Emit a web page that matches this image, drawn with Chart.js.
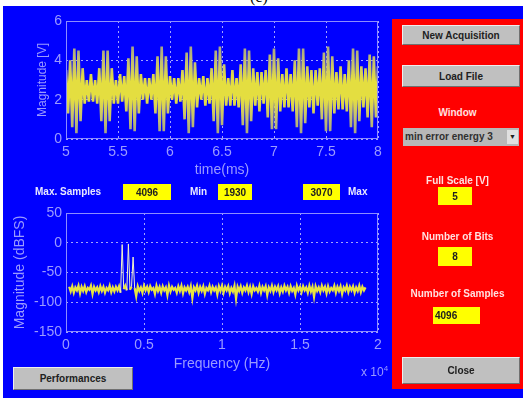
<!DOCTYPE html>
<html>
<head>
<meta charset="utf-8">
<script src="https://cdn.jsdelivr.net/npm/chart.js@4.4.0/dist/chart.umd.min.js"></script>
<style>
  body { margin: 0; width: 523px; height: 398px; background: #ffffff; position: relative; overflow: hidden; font-family: "Liberation Sans", Arial, sans-serif; }
  .abs { position: absolute; }
  #fondo { left: 3px; top: 6px; width: 520px; height: 392px; background: #0000ff; }
  #painel { left: 392px; top: 19px; width: 131px; height: 370px; background: #ff0000; }
  .btn { position: absolute; background: #c0c0c0; box-sizing: border-box; border-top: 1px solid #eeeeee; border-left: 1px solid #eeeeee;
         border-right: 1px solid #707070; border-bottom: 1px solid #707070; font-weight: bold; font-size: 10px; color: #202020;
         display: flex; align-items: center; justify-content: center; }
  .rotulo { position: absolute; font-weight: bold; font-size: 10px; color: #ffe0e0; text-align: center; white-space: nowrap; }
  .info { position: absolute; font-weight: bold; font-size: 10px; color: #e8e8ff; white-space: nowrap; }
  .caixa { position: absolute; background: #ffff00; box-sizing: border-box; font-weight: bold; font-size: 10px; color: #202020;
           display: flex; align-items: center; justify-content: center; }
  canvas { position: absolute; }
</style>
</head>
<body>
<div class="abs" style="left:250px; top:-12px; font: 16px 'Liberation Serif', serif; color:#000;">(c)</div>
<div id="fondo" class="abs"></div>

<canvas id="sinal-chart" width="392" height="190" style="left:0; top:0;"></canvas>
<canvas id="espectro-chart" width="392" height="200" style="left:0; top:195px;"></canvas>

<div class="info" style="left:35px; top:186px;">Max. Samples</div>
<div class="caixa" style="left:123px; top:184px; width:48px; height:16px;">4096</div>
<div class="info" style="left:190px; top:186px;">Min</div>
<div class="caixa" style="left:218px; top:184px; width:34px; height:16px;">1930</div>
<div class="caixa" style="left:303px; top:184px; width:37px; height:16px;">3070</div>
<div class="info" style="left:348px; top:186px;">Max</div>
<div class="info" style="left:361px; top:364px; font-weight:normal; font-size:12px; color:#9999ff;">x 10<sup style="font-size:8px;">4</sup></div>

<div class="btn" style="left:13px; top:367px; width:120px; height:23px;">Performances</div>

<div id="painel" class="abs"></div>
<div class="btn" style="left:402px; top:25px; width:118px; height:20px;">New Acquisition</div>
<div class="btn" style="left:402px; top:65px; width:118px; height:22px;">Load File</div>
<div class="rotulo" style="left:392px; width:131px; top:107px;">Window</div>
<div class="abs" style="left:403px; top:128px; width:116px; height:18px; background:#b8b8b8; font-weight:bold; font-size:10px; color:#303030; line-height:18px; padding-left:2px; box-sizing:border-box; white-space:nowrap; overflow:hidden;">min error energy 3</div>
<div class="abs" style="left:507px; top:130px; width:11px; height:14px; background:#e0e0e0; font-size:7px; line-height:14px; text-align:center; color:#202020;">&#9660;</div>
<div class="rotulo" style="left:392px; width:131px; top:175px;">Full Scale [V]</div>
<div class="caixa" style="left:438px; top:187px; width:34px; height:18px;">5</div>
<div class="rotulo" style="left:392px; width:131px; top:231px;">Number of Bits</div>
<div class="caixa" style="left:438px; top:247px; width:34px; height:19px;">8</div>
<div class="rotulo" style="left:392px; width:131px; top:288px;">Number of Samples</div>
<div class="caixa" style="left:433px; top:307px; width:47px; height:17px; justify-content:flex-start; padding-left:2px;">4096</div>
<div class="btn" style="left:402px; top:357px; width:118px; height:27px;">Close</div>

<script>
// sinal no tempo (ms) - amostras
const tempoInicio = 5;
const tempoPasso = 0.02;
const tensaoV = [
  3.5, 1.3, 4.0, 0.6, 4.6, 0.3, 4.5, 0.9, 3.6, 1.8,
  3.0, 1.9, 3.3, 1.9, 3.0, 1.8, 3.6, 0.9, 4.5, 0.3,
  4.5, 0.9, 3.6, 1.8, 3.0, 1.8, 3.3, 1.9, 3.2, 1.4,
  4.1, 0.5, 4.7, 0.4, 4.2, 1.3, 3.3, 2.0, 3.1, 1.8,
  3.1, 2.0, 3.3, 1.3, 4.2, 0.4, 4.7, 0.4, 4.2, 1.3,
  3.2, 2.0, 3.1, 1.8, 3.1, 1.9, 3.5, 1.0, 4.4, 0.3,
  4.7, 0.6, 3.9, 1.6, 3.1, 2.0, 3.2, 1.7, 3.1, 1.8,
  3.6, 0.9, 4.5, 0.3, 4.7, 0.7, 3.8, 1.7, 3.1, 1.7,
  3.5, 1.7, 3.1, 1.6, 3.8, 0.7, 4.6, 0.3, 4.5, 0.9,
  3.6, 1.7, 3.4, 1.4, 3.4, 1.8, 3.5, 1.1, 4.3, 0.5,
  4.6, 0.5, 4.1, 1.4, 3.3, 1.6, 3.6, 1.6, 3.3, 1.4,
  4.0, 0.6, 4.6, 0.3, 4.6, 0.8, 3.7, 1.6, 3.5, 1.3,
  3.5, 1.7, 3.6, 1.0, 4.4, 0.4, 4.7, 0.4, 4.2, 1.3,
  3.4, 1.5, 3.7, 1.5, 3.3, 1.4, 4.0, 0.6, 4.6, 0.3,
  4.5, 0.9, 3.7, 1.6, 3.6, 1.1, 4.3, 0.6, 4.2, 1.1,
  3.7
];

// espectro (frequencia em x10^4 Hz)
const freqInicio = 0.02;
const freqPasso = 0.01;
const magnitudeDb = [
  -74, -82, -73, -84, -75, -80, -72, -85, -74, -81,
  -73, -83, -76, -79, -72, -86, -74, -80, -75, -83,
  -73, -81, -74, -84, -76, -80, -72, -83, -75, -82,
  -74, -80, -73, -84, -3, -78, -72, -80, -2, -79,
  -74, -24, -76, -90, -73, -81, -75, -84, -72, -80,
  -74, -83, -73, -79, -76, -86, -72, -81, -74, -84,
  -73, -80, -75, -88, -72, -82, -74, -79, -76, -84,
  -73, -81, -72, -85, -75, -80, -74, -83, -73, -93,
  -75, -80, -72, -84, -74, -81, -73, -86, -76, -80,
  -72, -83, -74, -80, -75, -87, -73, -81, -72, -84,
  -74, -80, -73, -85, -76, -82, -72, -94, -74, -81,
  -73, -84, -75, -80, -72, -83, -74, -86, -73, -80,
  -76, -82, -72, -84, -74, -80, -73, -88, -75, -81,
  -72, -83, -74, -80, -73, -85, -75, -82, -72, -80,
  -74, -84, -73, -81, -76, -87, -72, -80, -74, -83,
  -73, -80, -75, -84, -72, -82, -74, -91, -73, -81,
  -75, -83, -72, -80, -74, -85, -73, -82, -76, -80,
  -72, -84, -74, -81, -73, -86, -75, -80, -72, -83,
  -74, -80, -73, -84, -75, -81, -72, -83, -74, -80,
  -75
];

const tempoMs = tensaoV.map((v, i) => +(tempoInicio + i * tempoPasso).toFixed(3));
const frequencia = magnitudeDb.map((v, i) => +(freqInicio + i * freqPasso).toFixed(3));

const corTexto = '#9a9aff';
const corGrade = '#a4a4ff';
const fonteEixo = { family: '"Liberation Sans", Arial, sans-serif', size: 14 };

// caixa fechada em volta da area do grafico (estilo matlab)
const caixaPlugin = {
  id: 'caixa',
  afterDraw(chart) {
    const a = chart.chartArea;
    const c = chart.ctx;
    c.save();
    c.strokeStyle = '#8c8cff';
    c.lineWidth = 1;
    c.strokeRect(a.left + 0.5, a.top + 0.5, a.right - a.left - 1, a.bottom - a.top - 1);
    c.restore();
  }
};

// amarelo forte no centro, acinzentado nas pontas
function corSinal(context) {
  const chart = context.chart;
  const area = chart.chartArea;
  if (!area) return '#cdc862';
  const y = chart.scales.y;
  const g = chart.ctx.createLinearGradient(0, y.getPixelForValue(5), 0, y.getPixelForValue(0));
  g.addColorStop(0, '#9c9c8c');
  g.addColorStop(0.22, '#c4c070');
  g.addColorStop(0.4, '#e4de40');
  g.addColorStop(0.6, '#e4de40');
  g.addColorStop(0.78, '#c4c070');
  g.addColorStop(1, '#9c9c8c');
  return g;
}

function eixoX(min, max, passo, altura, tituloTexto, tituloPad) {
  return {
    type: 'linear', min: min, max: max,
    afterFit: (s) => { s.height = altura; },
    ticks: { stepSize: passo, color: corTexto, font: fonteEixo, padding: 5, maxRotation: 0,
             callback: (v) => String(+v.toFixed(2)) },
    grid: { color: corGrade, drawTicks: false, lineWidth: 1 },
    border: { display: false, dash: [2, 3] },
    title: { display: true, text: tituloTexto, color: corTexto, font: fonteEixo, padding: { top: 0, bottom: tituloPad } }
  };
}

function eixoY(min, max, passo, tituloTexto, tituloPad, tituloTam) {
  return {
    min: min, max: max,
    afterFit: (s) => { s.width = 66; },
    ticks: { stepSize: passo, color: corTexto, font: fonteEixo, padding: 4 },
    grid: { color: corGrade, drawTicks: false, lineWidth: 1 },
    border: { display: false, dash: [2, 3] },
    title: { display: true, text: tituloTexto, color: corTexto,
             font: { family: fonteEixo.family, size: tituloTam }, padding: { top: tituloPad, bottom: 0 } }
  };
}

new Chart(document.getElementById('sinal-chart').getContext('2d'), {
  type: 'line',
  data: {
    labels: tempoMs,
    datasets: [{
      data: tensaoV,
      borderColor: corSinal,
      borderWidth: 2.6,
      pointRadius: 0,
      tension: 0,
      fill: false
    }]
  },
  options: {
    animation: false,
    responsive: false,
    layout: { padding: { top: 21, right: 14, left: 0, bottom: 0 } },
    plugins: { legend: { display: false }, tooltip: { enabled: false } },
    scales: {
      x: eixoX(5, 8, 0.5, 51, 'time(ms)', 11),
      y: eixoY(0, 6, 2, 'Magnitude [V]', 35, 12)
    }
  },
  plugins: [caixaPlugin]
});

new Chart(document.getElementById('espectro-chart').getContext('2d'), {
  type: 'line',
  data: {
    labels: frequencia,
    datasets: [{
      data: magnitudeDb,
      borderColor: '#e8e440',
      borderWidth: 2.2,
      pointRadius: 0,
      tension: 0,
      fill: false,
      segment: {
        // raias do sinal: traço fino e mais claro
        borderColor: (ctx) => (ctx.p0.parsed.y > -60 || ctx.p1.parsed.y > -60) ? '#f2f2c8' : undefined,
        borderWidth: (ctx) => (ctx.p0.parsed.y > -60 || ctx.p1.parsed.y > -60) ? 1 : undefined
      }
    }]
  },
  options: {
    animation: false,
    responsive: false,
    layout: { padding: { top: 18, right: 14, left: 0, bottom: 0 } },
    plugins: { legend: { display: false }, tooltip: { enabled: false } },
    scales: {
      x: eixoX(0, 2, 0.5, 63, 'Frequency (Hz)', 22),
      y: eixoY(-150, 50, 50, 'Magnitude (dBFS)', 12, 14)
    }
  },
  plugins: [caixaPlugin]
});
</script>
</body>
</html>
